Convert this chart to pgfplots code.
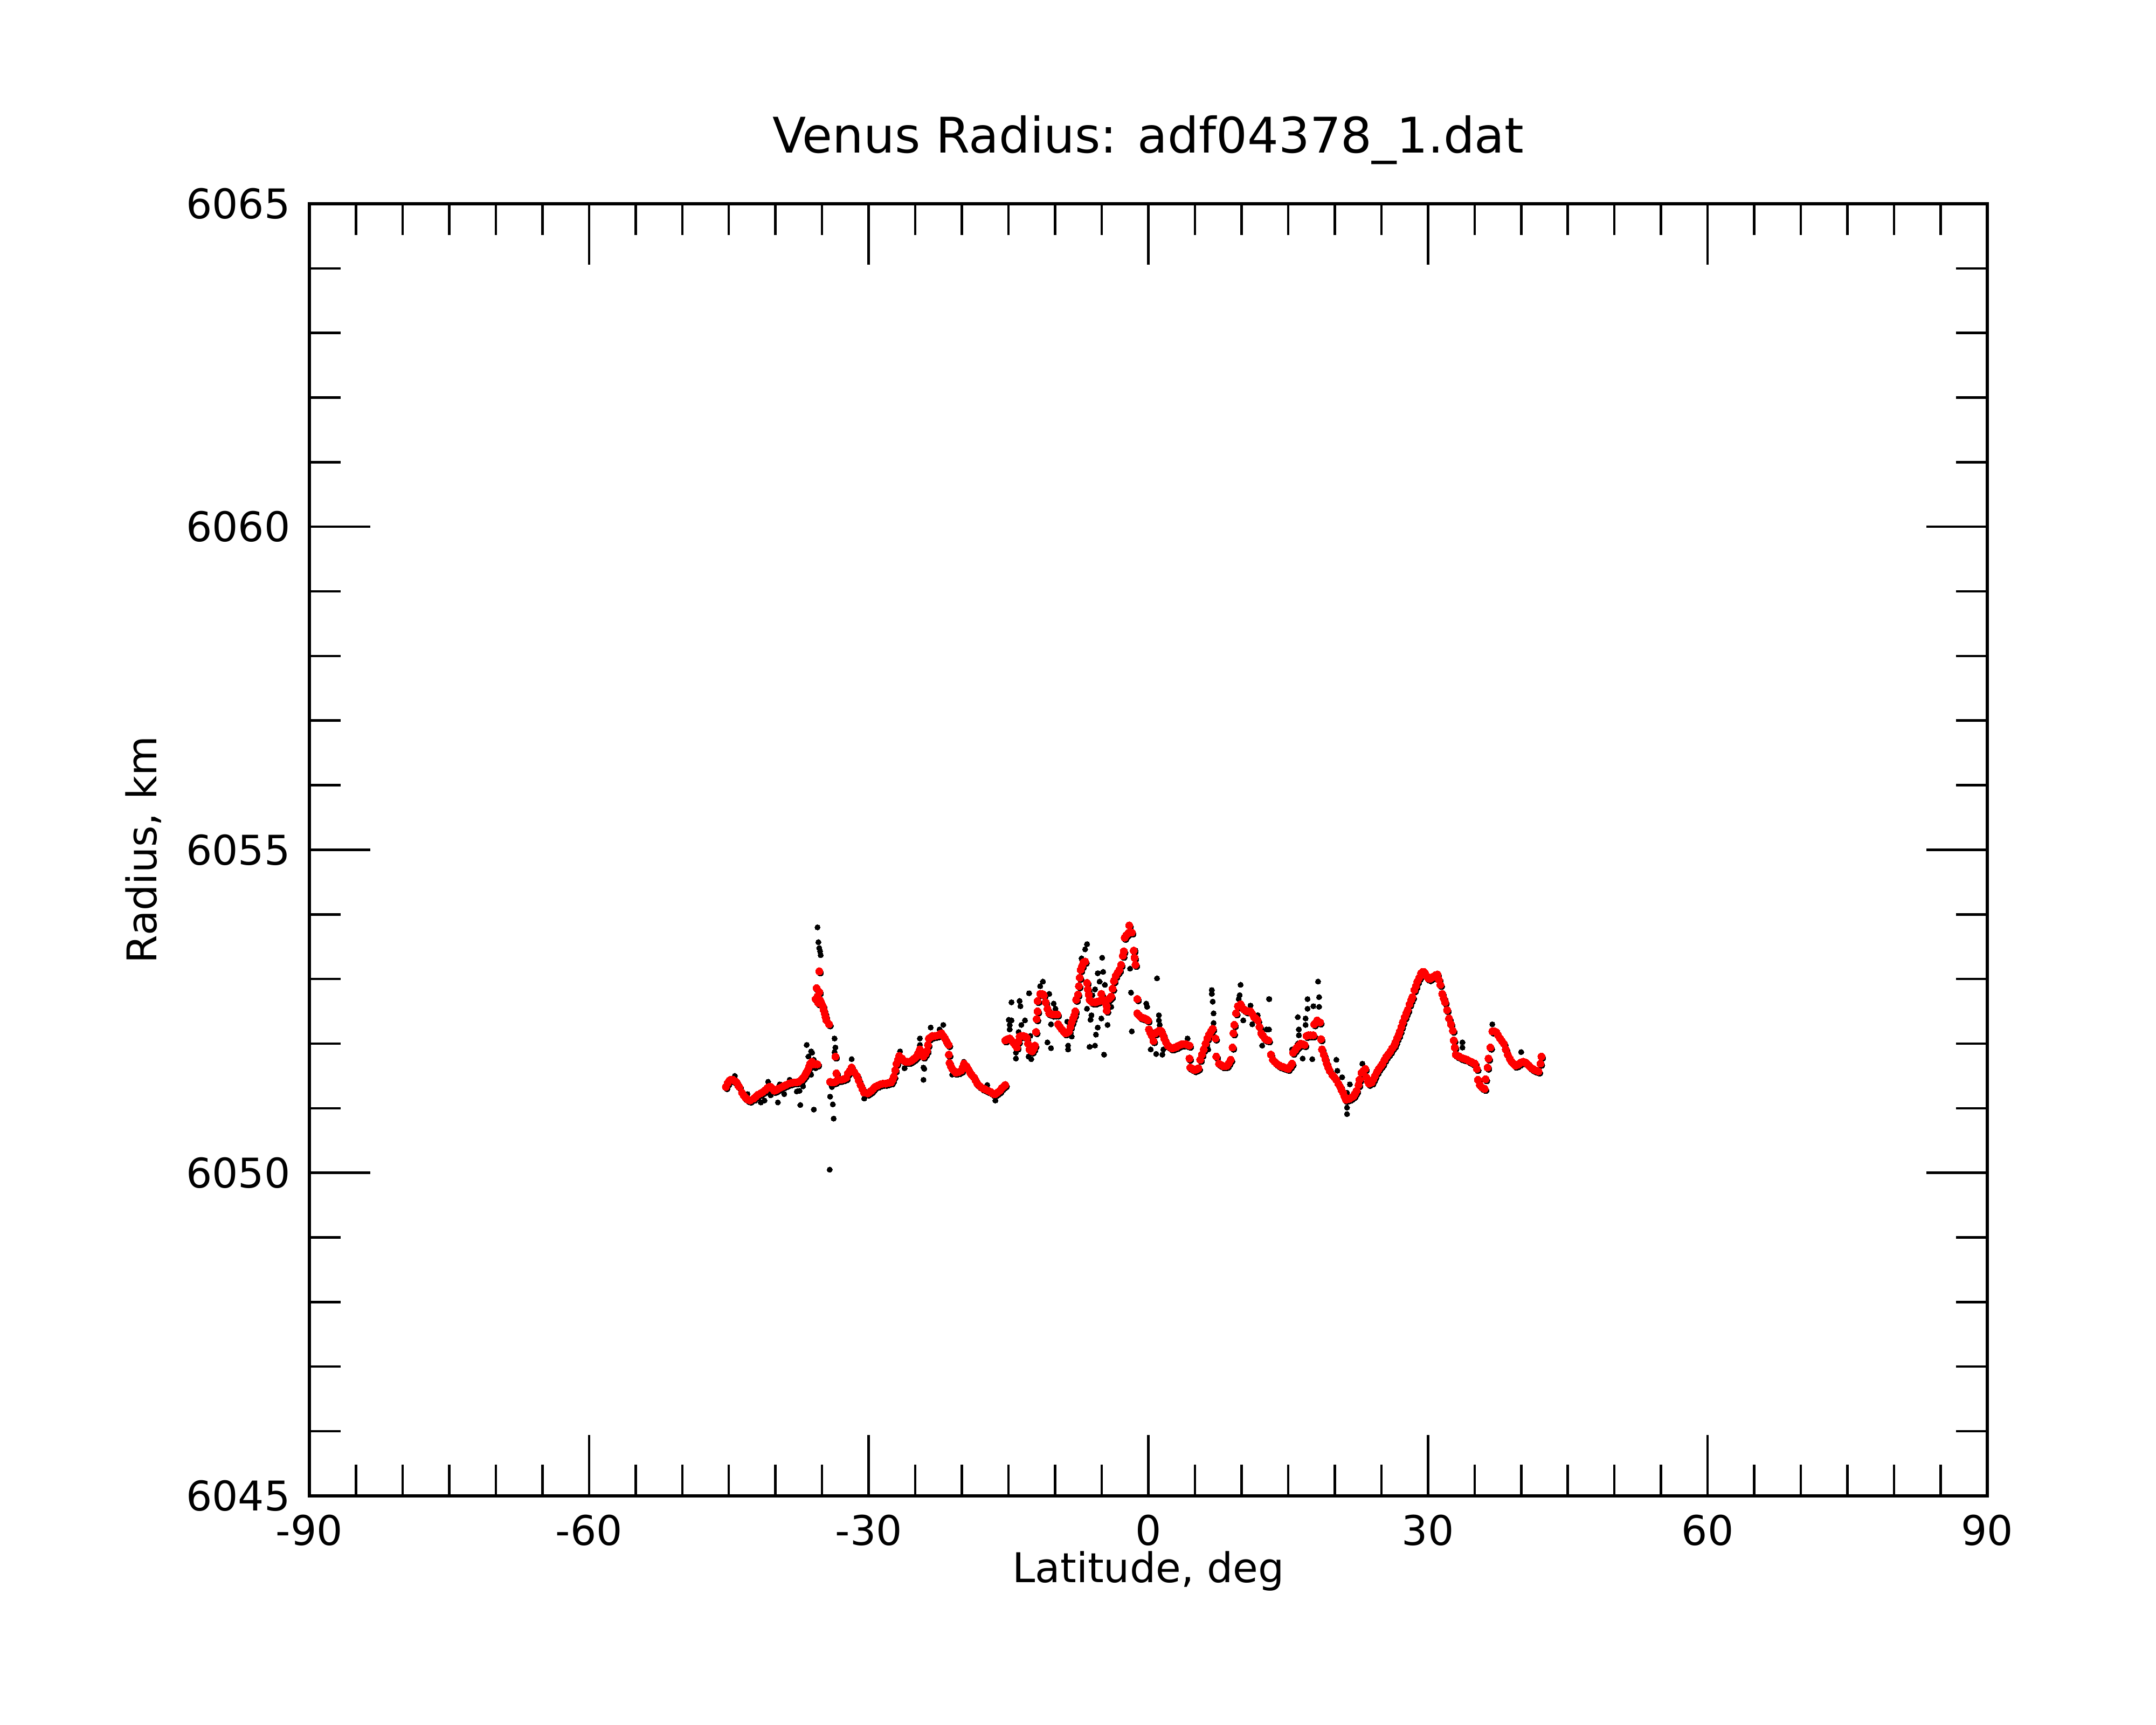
\documentclass[border=0pt]{standalone}
\usepackage{pgfplots}
\usepackage{pgfplotstable}
\pgfplotsset{compat=1.18}
\usepackage{fontspec}
\setmainfont{DejaVu Sans}

\pgfplotstableread{
lat R
-45.32 6051.33
-45.13 6051.39
-44.94 6051.43
-44.75 6051.44
-44.55 6051.44
-44.36 6051.42
-44.17 6051.40
-43.98 6051.35
-43.88 6051.33
-43.59 6051.24
-43.40 6051.20
-43.20 6051.16
-42.95 6051.13
-42.72 6051.12
-42.34 6051.15
-42.10 6051.18
-41.86 6051.21
-41.60 6051.23
-41.37 6051.25
-41.10 6051.28
-40.89 6051.31
-40.70 6051.33
-40.51 6051.33
-40.30 6051.30
-40.12 6051.27
-39.93 6051.28
-39.74 6051.30
-39.45 6051.32
-39.16 6051.34
-38.87 6051.36
-38.58 6051.38
-38.29 6051.39
-38.00 6051.40
-37.76 6051.40
-37.52 6051.41
-37.23 6051.44
-37.04 6051.47
-36.84 6051.51
-36.70 6051.55
-36.55 6051.59
-36.41 6051.64
-36.27 6051.69
-36.07 6051.72
-35.88 6051.68
-35.69 6051.68
-35.50 6051.68
-35.69 6052.69
-35.49 6052.73
-35.59 6052.86
-35.30 6052.80
-35.30 6053.12
-35.40 6052.63
-35.21 6052.67
-35.05 6052.62
-34.92 6052.58
-34.82 6052.52
-34.72 6052.47
-34.62 6052.41
-34.53 6052.36
-34.24 6052.30
-33.57 6051.80
-33.47 6051.54
-34.14 6051.41
-33.95 6051.40
-33.76 6051.40
-33.57 6051.41
-33.37 6051.43
-33.18 6051.44
-32.99 6051.44
-32.70 6051.45
-32.41 6051.47
-32.22 6051.54
-32.03 6051.58
-31.83 6051.63
-31.54 6051.56
-31.25 6051.50
-31.06 6051.43
-30.87 6051.36
-30.68 6051.30
-30.48 6051.24
-30.10 6051.23
-29.90 6051.25
-29.71 6051.27
-29.52 6051.30
-29.33 6051.33
-29.04 6051.35
-28.75 6051.37
-28.46 6051.38
-28.17 6051.38
-27.88 6051.39
-27.59 6051.40
-27.44 6051.44
-27.30 6051.49
-27.15 6051.59
-27.01 6051.69
-26.86 6051.75
-26.72 6051.81
-26.43 6051.77
-26.24 6051.74
-26.05 6051.72
-25.85 6051.72
-25.66 6051.72
-25.47 6051.73
-25.28 6051.75
-25.08 6051.77
-24.89 6051.80
-24.70 6051.85
-24.51 6051.91
-24.32 6051.85
-24.12 6051.80
-23.93 6051.84
-23.74 6051.89
-23.64 6051.98
-23.54 6052.08
-23.35 6052.10
-23.16 6052.12
-22.87 6052.12
-22.58 6052.13
-22.39 6052.14
-22.19 6052.16
-22.00 6052.12
-21.81 6052.08
-21.62 6052.03
-21.42 6051.98
-21.40 6051.83
-21.33 6051.70
-21.18 6051.65
-21.04 6051.61
-20.85 6051.58
-20.65 6051.55
-20.36 6051.56
-20.07 6051.58
-19.92 6051.63
-19.78 6051.69
-19.50 6051.65
-19.30 6051.60
-19.11 6051.55
-18.92 6051.51
-18.72 6051.48
-18.53 6051.43
-18.34 6051.38
-18.05 6051.34
-17.76 6051.31
-17.47 6051.29
-17.18 6051.27
-16.89 6051.25
-16.60 6051.22
-16.41 6051.22
-16.22 6051.24
-15.93 6051.27
-15.74 6051.31
-15.50 6051.34
-15.35 6051.36
-15.35 6052.05
-15.11 6052.07
-14.87 6052.08
-14.68 6052.05
-14.49 6052.02
-14.29 6051.98
-14.10 6051.94
-13.95 6052.03
-13.81 6052.11
-13.62 6052.12
-13.43 6052.12
-13.23 6052.11
-13.04 6052.09
-12.90 6052.00
-12.75 6051.91
-12.60 6051.89
-12.46 6051.88
-12.30 6051.92
-12.17 6051.97
-12.05 6052.18
-11.98 6052.38
-11.88 6052.50
-11.88 6052.66
-11.60 6052.77
-11.40 6052.77
-11.21 6052.75
-11.02 6052.64
-10.82 6052.54
-10.63 6052.47
-10.44 6052.46
-10.25 6052.45
-10.00 6052.45
-9.76 6052.45
-9.67 6052.30
-9.48 6052.26
-9.28 6052.22
-9.09 6052.19
-8.90 6052.16
-8.70 6052.17
-8.51 6052.19
-8.36 6052.26
-8.22 6052.33
-8.07 6052.39
-7.93 6052.44
-7.84 6052.50
-7.74 6052.68
-7.55 6052.76
-7.45 6052.89
-7.36 6053.02
-7.26 6053.14
-7.11 6053.20
-6.97 6053.26
-6.78 6053.27
-6.58 6052.94
-6.49 6052.84
-6.40 6052.76
-6.30 6052.68
-6.15 6052.66
-6.01 6052.64
-5.82 6052.64
-5.62 6052.64
-5.43 6052.65
-5.23 6052.66
-5.04 6052.77
-4.85 6052.68
-4.66 6052.64
-4.46 6052.58
-4.46 6052.51
-4.27 6052.69
-4.12 6052.71
-3.98 6052.73
-3.83 6052.85
-3.69 6052.97
-3.50 6053.05
-3.30 6053.10
-3.11 6053.14
-2.92 6053.22
-2.73 6053.36
-2.63 6053.43
-2.54 6053.64
-2.35 6053.68
-2.15 6053.71
-2.05 6053.83
-1.77 6053.72
-1.57 6053.44
-1.48 6053.33
-1.38 6053.22
-1.19 6052.69
-1.19 6052.47
-1.00 6052.44
-0.80 6052.41
-0.61 6052.40
-0.42 6052.39
-0.22 6052.38
-0.03 6052.36
0.07 6052.22
0.21 6052.17
0.35 6052.13
0.55 6052.04
0.74 6052.16
0.93 6052.18
1.13 6052.20
1.27 6052.20
1.42 6052.19
1.56 6052.14
1.70 6052.08
1.90 6052.02
2.09 6051.97
2.29 6051.95
2.48 6051.93
2.67 6051.93
2.86 6051.94
3.05 6051.95
3.25 6051.97
3.44 6051.98
3.63 6051.99
3.83 6051.99
4.02 6051.99
4.21 6051.98
4.41 6051.97
4.41 6051.77
4.50 6051.63
4.74 6051.61
4.98 6051.59
5.17 6051.60
5.37 6051.62
5.56 6051.75
5.75 6051.83
5.95 6051.91
6.14 6052.00
6.33 6052.08
6.52 6052.14
6.72 6052.19
6.91 6052.23
7.20 6052.08
7.29 6051.80
7.58 6051.69
7.82 6051.67
8.06 6051.65
8.25 6051.65
8.45 6051.66
8.64 6051.70
8.84 6051.75
9.03 6051.94
9.13 6052.16
9.22 6052.29
9.41 6052.47
9.61 6052.58
9.90 6052.61
10.18 6052.54
10.37 6052.52
10.57 6052.50
10.76 6052.50
10.96 6052.50
11.15 6052.46
11.34 6052.41
11.53 6052.39
11.73 6052.36
11.92 6052.26
12.11 6052.16
12.30 6052.12
12.50 6052.08
12.69 6052.06
12.88 6052.05
13.15 6051.83
13.36 6051.75
13.56 6051.72
13.77 6051.69
13.98 6051.67
14.19 6051.65
14.40 6051.64
14.60 6051.63
14.80 6051.62
15.01 6051.61
15.22 6051.65
15.42 6051.69
15.53 6051.86
15.74 6051.90
15.94 6051.94
16.15 6051.97
16.35 6052.00
16.56 6051.99
16.77 6051.98
16.97 6052.12
17.18 6052.13
17.39 6052.13
17.70 6052.13
17.80 6052.30
18.11 6052.36
18.42 6052.33
18.52 6052.07
18.63 6051.91
18.83 6051.83
18.99 6051.76
19.14 6051.69
19.30 6051.63
19.45 6051.58
19.76 6051.51
19.96 6051.48
20.17 6051.44
20.38 6051.38
20.59 6051.33
20.74 6051.28
20.90 6051.24
21.05 6051.18
21.21 6051.13
21.42 6051.14
21.62 6051.15
21.83 6051.17
22.03 6051.19
22.19 6051.23
22.34 6051.27
22.55 6051.36
22.65 6051.44
22.86 6051.55
23.07 6051.58
23.27 6051.61
23.38 6051.48
23.54 6051.42
23.69 6051.38
23.98 6051.40
24.15 6051.45
24.31 6051.50
24.52 6051.56
24.72 6051.61
24.93 6051.65
25.13 6051.69
25.34 6051.75
25.54 6051.80
25.75 6051.84
25.96 6051.88
26.17 6051.93
26.37 6051.97
26.52 6052.02
26.68 6052.08
26.84 6052.13
26.99 6052.19
27.15 6052.26
27.30 6052.33
27.51 6052.41
27.67 6052.47
27.82 6052.52
28.02 6052.61
28.18 6052.67
28.33 6052.72
28.54 6052.83
28.70 6052.89
28.85 6052.96
29.06 6053.02
29.26 6053.09
29.42 6053.11
29.57 6053.11
29.72 6053.08
29.88 6053.04
30.04 6053.01
30.19 6053.00
30.40 6053.02
30.60 6053.04
30.81 6053.06
31.02 6053.07
31.17 6052.99
31.33 6052.91
31.53 6052.77
31.69 6052.70
31.84 6052.64
32.05 6052.52
32.26 6052.39
32.46 6052.30
32.67 6052.20
32.77 6052.05
32.88 6051.94
32.98 6051.83
33.19 6051.81
33.39 6051.80
33.60 6051.78
33.81 6051.77
34.01 6051.76
34.22 6051.75
34.42 6051.73
34.63 6051.72
34.84 6051.70
35.04 6051.69
35.25 6051.61
35.35 6051.44
35.56 6051.36
35.82 6051.32
36.08 6051.30
36.18 6051.45
36.39 6051.63
36.49 6051.77
36.70 6051.94
36.90 6052.19
37.11 6052.19
37.32 6052.18
37.52 6052.13
37.73 6052.08
37.94 6052.04
38.14 6052.00
38.35 6051.91
38.56 6051.83
38.76 6051.77
38.97 6051.72
39.18 6051.69
39.38 6051.66
39.59 6051.67
39.80 6051.69
40.00 6051.71
40.21 6051.72
40.42 6051.71
40.62 6051.69
40.83 6051.66
41.03 6051.63
41.24 6051.61
41.45 6051.59
41.66 6051.58
41.86 6051.57
42.07 6051.69
42.17 6051.80
}\redtab

\pgfplotstableread{
lat R
-35.49 6053.80
-35.40 6053.57
-35.30 6053.48
-35.21 6053.43
-35.15 6053.37
-36.65 6051.98
-36.17 6051.88
-36.07 6051.86
-36.46 6051.80
-35.88 6051.75
-36.17 6051.52
-35.69 6051.62
-37.42 6051.27
-37.71 6051.26
-37.33 6051.05
-35.88 6050.98
-39.74 6051.09
-41.57 6051.09
-41.18 6051.12
-34.14 6051.18
-33.85 6051.06
-33.76 6050.84
-34.18 6050.05
-33.66 6052.08
-33.57 6051.94
-33.66 6051.87
-33.95 6051.33
-31.83 6051.76
-24.51 6052.08
-24.51 6051.98
-24.12 6051.63
-24.03 6051.61
-24.12 6051.44
-23.35 6052.25
-22.00 6052.29
-22.39 6052.22
-21.62 6052.00
-26.63 6051.88
-26.15 6051.62
-21.04 6051.52
-19.78 6051.72
-17.28 6051.36
-16.41 6051.12
-30.48 6051.15
-44.36 6051.50
-43.01 6051.22
-40.79 6051.41
-39.54 6051.37
-38.48 6051.44
-39.06 6051.22
-40.51 6051.20
-37.04 6051.34
-22.97 6052.08
-14.68 6052.64
-13.81 6052.66
-13.72 6052.58
-12.79 6052.78
-14.97 6052.37
-14.68 6052.36
-14.87 6052.29
-14.87 6052.22
-13.23 6052.36
-13.62 6052.29
-13.91 6052.18
-12.66 6052.12
-14.20 6051.86
-14.20 6051.77
-12.56 6051.76
-12.85 6051.80
-11.31 6052.96
-11.60 6052.89
-10.63 6052.77
-10.15 6052.62
-9.96 6052.54
-10.44 6052.30
-10.82 6052.02
-10.44 6051.93
-8.70 6052.34
-8.61 6051.97
-8.61 6051.91
-8.22 6052.11
-6.58 6053.54
-6.78 6053.46
-7.16 6053.32
-4.95 6053.33
-5.43 6053.09
-4.85 6053.11
-5.23 6052.96
-4.66 6052.91
-5.72 6052.84
-6.01 6052.75
-6.58 6052.54
-6.10 6052.44
-6.20 6052.37
-5.04 6052.39
-4.37 6052.29
-5.43 6052.25
-5.62 6052.14
-6.30 6051.95
-5.72 6051.97
-4.75 6051.83
-3.98 6052.57
-1.96 6053.16
-1.38 6053.44
-1.86 6052.79
-1.77 6052.19
0.93 6053.01
-0.22 6052.62
-0.13 6052.57
1.13 6052.44
1.13 6052.36
1.22 6052.29
0.26 6051.91
0.84 6051.84
1.51 6051.83
1.61 6051.91
4.21 6052.08
6.81 6052.83
6.81 6052.77
6.91 6052.65
7.00 6052.47
7.00 6052.32
6.43 6051.91
9.90 6052.91
9.80 6052.75
9.70 6052.69
10.96 6052.59
10.18 6052.36
11.15 6052.30
11.73 6052.44
12.69 6052.22
12.21 6051.97
12.98 6052.69
12.95 6052.69
12.95 6052.22
18.21 6052.96
18.32 6052.72
18.32 6052.57
17.70 6052.58
17.08 6052.69
17.08 6052.54
16.87 6052.39
16.87 6052.29
16.04 6052.41
16.15 6052.22
16.15 6052.13
15.42 6051.91
16.04 6052.00
16.56 6051.77
17.59 6051.76
20.17 6051.75
20.28 6051.58
20.79 6051.48
21.62 6051.37
21.31 6051.24
21.31 6051.01
21.31 6050.91
22.96 6051.69
33.70 6052.02
33.70 6051.94
36.90 6052.30
40.00 6051.87
}\blacktab

\begin{document}
\begin{tikzpicture}
\path[use as bounding box] (-57.4pt,-42.5pt) rectangle (342.6pt,277.5pt);
\begin{axis}[
  at={(0,0)}, anchor=south west,
  scale only axis,
  width=311.3pt, height=239.7pt,
  xmin=-90, xmax=90, ymin=6045, ymax=6065,
  xtick={-90,-60,-30,0,30,60,90},
  xticklabels={-90,-60,-30,0,30,60,90},
  ytick={6045,6050,6055,6060,6065},
  yticklabels={6045,6050,6055,6060,6065},
  minor x tick num=5,
  minor y tick num=4,
  tick align=inside,
  tick pos=both,
  major tick length=11.3pt,
  minor tick length=5.8pt,
  every tick/.style={black, line width=0.45pt},
  axis line style={line width=0.6pt},
  tick label style={font=\fontsize{7.6}{9}\selectfont},
  title={Venus Radius: adf04378\_1.dat},
  title style={font=\fontsize{9.1}{11}\selectfont, at={(axis description cs:0.5,1.0396)}, anchor=base, yshift=-6pt},
  xlabel={Latitude, deg},
  xlabel style={font=\fontsize{7.6}{9}\selectfont, at={(axis description cs:0.5,-0.0668)}, anchor=base},
  ylabel={Radius, km},
  ylabel style={font=\fontsize{7.6}{9}\selectfont, at={(axis description cs:-0.0912,0.5)}, anchor=base, rotate=0},
  clip=false,
]
\addplot[only marks, mark=*, color=black, mark size=0.6pt, mark options={xshift=0.2pt, yshift=-0.3pt, line width=0pt}] table[x=lat, y=R] {\redtab};
\addplot[only marks, mark=*, color=black, mark size=0.5pt, mark options={line width=0pt}] table[x=lat, y=R] {\blacktab};
\addplot[only marks, mark=*, color=red, mark size=0.68pt, mark options={line width=0pt}] table[x=lat, y=R] {\redtab};
\end{axis}
\end{tikzpicture}
\end{document}
